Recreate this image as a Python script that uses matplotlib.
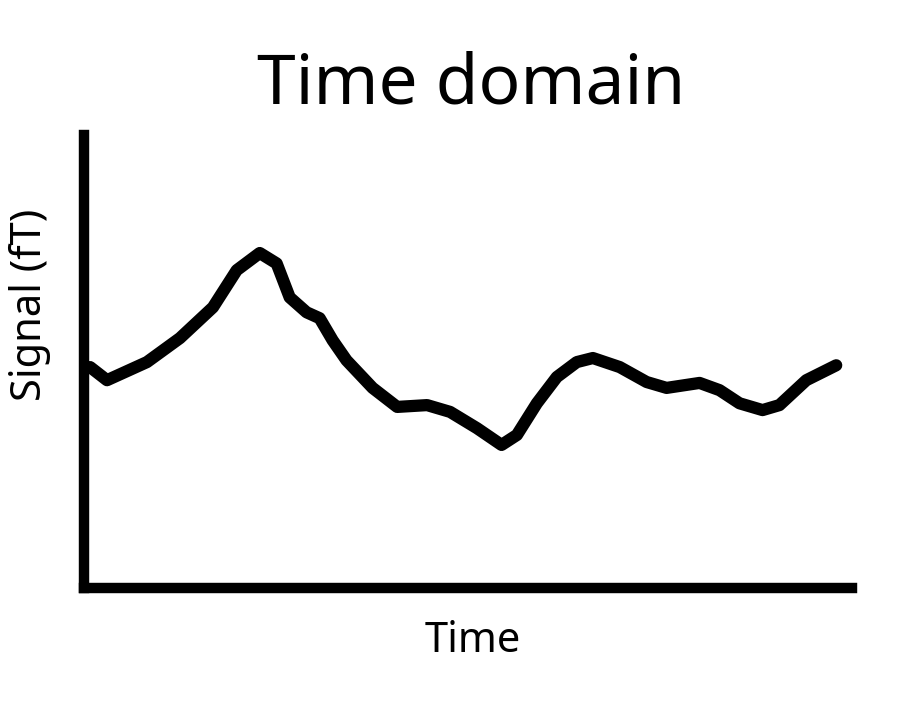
import matplotlib.pyplot as plt

plt.rcParams['font.family'] = ['Noto Sans', 'DejaVu Sans']

# time (arbitrary units) and signal values
time = [0.08, 0.30, 0.82, 1.25, 1.68, 1.99, 2.29, 2.51, 2.68, 2.90, 3.07,
        3.24, 3.42, 3.76, 4.08, 4.47, 4.77, 5.12, 5.44, 5.64, 5.90, 6.16,
        6.42, 6.63, 6.98, 7.33, 7.59, 8.02, 8.28, 8.54, 8.84, 9.06, 9.41,
        9.80]
signal = [4.88, 4.59, 4.99, 5.52, 6.20, 7.02, 7.40, 7.17, 6.42, 6.09, 5.96,
          5.47, 5.03, 4.42, 4.00, 4.04, 3.89, 3.53, 3.16, 3.38, 4.08, 4.66,
          4.99, 5.08, 4.88, 4.55, 4.42, 4.53, 4.37, 4.08, 3.93, 4.04, 4.59,
          4.92]

fig = plt.figure(figsize=(9.02, 7.22), dpi=100)
ax = fig.add_axes([0.0931, 0.1856, 0.851, 0.627])
ax.plot(time, signal, color='black', lw=8.8, solid_capstyle='round',
        solid_joinstyle='round')
ax.set_xlim(0, 10)
ax.set_ylim(0, 10)
for side in ['top', 'right']:
    ax.spines[side].set_visible(False)
for side in ['left', 'bottom']:
    ax.spines[side].set_linewidth(7.5)
ax.set_xticks([])
ax.set_yticks([])

fig.text(0.522, 0.857, 'Time domain', fontsize=50, ha='center', va='baseline')
fig.text(0.524, 0.097, 'Time', fontsize=30, ha='center', va='baseline')
fig.text(0.033, 0.578, 'Signal (fT)', fontsize=30, ha='center', va='center',
         rotation=90)

fig.savefig('out.png', dpi=100)
